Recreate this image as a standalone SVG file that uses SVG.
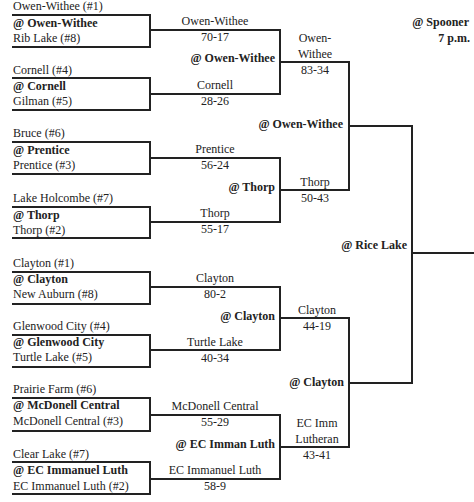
<svg xmlns="http://www.w3.org/2000/svg" width="474" height="502" viewBox="0 0 474 502">
<style>
text{font-family:"Liberation Serif","Times New Roman",serif;font-size:12px;fill:#222}
.b{font-weight:bold}
.c{text-anchor:middle}
.r{text-anchor:end}
.ln{fill:none;stroke:#222;stroke-width:2}
</style>
<rect width="474" height="502" fill="#fff"/>
<g id="connectors" class="ln">
<path d="M12 15H150V47H12"/>
<path d="M12 78H150V110H12"/>
<path d="M12 142H150V174H12"/>
<path d="M12 207H150V238H12"/>
<path d="M12 272H150V304H12"/>
<path d="M12 335H150V367H12"/>
<path d="M12 398H150V431H12"/>
<path d="M12 462H150V494H12"/>
<path d="M150 30H280V94H150"/>
<path d="M150 158H280V222H150"/>
<path d="M150 287H280V350H150"/>
<path d="M150 415H280V479H150"/>
<path d="M280 62H349V190H280"/>
<path d="M280 318H349V447H280"/>
<path d="M349 126H412V383H349"/>
<path d="M412 253H474"/>
</g>
<g id="g1"><text x="13" y="10">Owen-Withee (#1)</text><text class="b" x="13" y="27">@ Owen-Withee</text><text x="13" y="42">Rib Lake (#8)</text></g>
<g id="g2"><text x="13" y="74">Cornell (#4)</text><text class="b" x="13" y="90">@ Cornell</text><text x="13" y="105">Gilman (#5)</text></g>
<g id="g3"><text x="13" y="137">Bruce (#6)</text><text class="b" x="13" y="154">@ Prentice</text><text x="13" y="169">Prentice (#3)</text></g>
<g id="g4"><text x="13" y="202">Lake Holcombe (#7)</text><text class="b" x="13" y="219">@ Thorp</text><text x="13" y="234">Thorp (#2)</text></g>
<g id="g5"><text x="13" y="267">Clayton (#1)</text><text class="b" x="13" y="283">@ Clayton</text><text x="13" y="298">New Auburn (#8)</text></g>
<g id="g6"><text x="13" y="330">Glenwood City (#4)</text><text class="b" x="13" y="346">@ Glenwood City</text><text x="13" y="361">Turtle Lake (#5)</text></g>
<g id="g7"><text x="13" y="393">Prairie Farm (#6)</text><text class="b" x="13" y="409">@ McDonell Central</text><text x="13" y="425">McDonell Central (#3)</text></g>
<g id="g8"><text x="13" y="458">Clear Lake (#7)</text><text class="b" x="13" y="474">@ EC Immanuel Luth</text><text x="13" y="490">EC Immanuel Luth (#2)</text></g>
<g id="r1"><text class="c" x="215" y="25">Owen-Withee</text><text class="c" x="215" y="41">70-17</text></g>
<g id="r2"><text class="c" x="215" y="89">Cornell</text><text class="c" x="215" y="105">28-26</text></g>
<g id="r3"><text class="c" x="215" y="153">Prentice</text><text class="c" x="215" y="169">56-24</text></g>
<g id="r4"><text class="c" x="215" y="217">Thorp</text><text class="c" x="215" y="233">55-17</text></g>
<g id="r5"><text class="c" x="215" y="282">Clayton</text><text class="c" x="215" y="298">80-2</text></g>
<g id="r6"><text class="c" x="215" y="346">Turtle Lake</text><text class="c" x="215" y="362">40-34</text></g>
<g id="r7"><text class="c" x="215" y="410">McDonell Central</text><text class="c" x="215" y="426">55-29</text></g>
<g id="r8"><text class="c" x="215" y="474">EC Immanuel Luth</text><text class="c" x="215" y="490">58-9</text></g>
<g id="s1"><text class="b r" x="275" y="62">@ Owen-Withee</text></g>
<g id="s2"><text class="b r" x="275" y="191">@ Thorp</text></g>
<g id="s3"><text class="b r" x="275" y="320">@ Clayton</text></g>
<g id="s4"><text class="b r" x="275" y="448">@  EC Imman Luth</text></g>
<g id="q1"><text class="c" x="315" y="42">Owen-</text><text class="c" x="315" y="58">Withee</text><text class="c" x="315" y="74">83-34</text></g>
<g id="q2"><text class="c" x="315" y="186">Thorp</text><text class="c" x="315" y="202">50-43</text></g>
<g id="q3"><text class="c" x="317" y="314">Clayton</text><text class="c" x="317" y="330">44-19</text></g>
<g id="q4"><text class="c" x="317" y="427">EC Imm</text><text class="c" x="317" y="443">Lutheran</text><text class="c" x="317" y="459">43-41</text></g>
<g id="t1"><text class="b r" x="343" y="128">@ Owen-Withee</text></g>
<g id="t2"><text class="b r" x="344" y="386">@ Clayton</text></g>
<g id="f1"><text class="b r" x="407" y="249">@ Rice Lake</text></g>
<g id="final"><text class="b r" x="469" y="26">@ Spooner</text><text class="b r" x="470" y="42">7 p.m.</text></g>
</svg>
